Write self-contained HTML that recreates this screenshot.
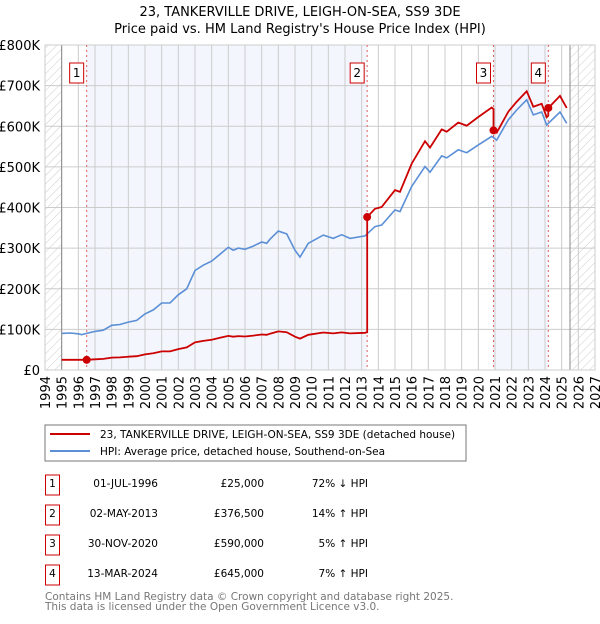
<!DOCTYPE html>
<html><head><meta charset="utf-8">
<style>
body{margin:0;background:#fff;width:600px;height:620px;overflow:hidden;font-family:"DejaVu Sans","Liberation Sans",sans-serif;}
svg text{font-family:"DejaVu Sans","Liberation Sans",sans-serif;}
</style></head>
<body>
<svg id="chart" width="600" height="620">
<defs>
<pattern id="hatch" patternUnits="userSpaceOnUse" width="6" height="6" patternTransform="rotate(45)">
<line x1="0" y1="0" x2="0" y2="6" stroke="#ccc" stroke-width="1"/>
</pattern>
</defs>
<text x="300" y="16" text-anchor="middle" font-size="13">23, TANKERVILLE DRIVE, LEIGH-ON-SEA, SS9 3DE</text>
<text x="300" y="33" text-anchor="middle" font-size="13">Price paid vs. HM Land Registry's House Price Index (HPI)</text>
<g id="plot"></g>
<rect x="45" y="425" width="421" height="36" fill="#fff" stroke="#777"/>
<line x1="50" y1="434" x2="90" y2="434" stroke="#cc0000" stroke-width="2"/>
<text x="100" y="438" font-size="10.5">23, TANKERVILLE DRIVE, LEIGH-ON-SEA, SS9 3DE (detached house)</text>
<line x1="50" y1="451" x2="90" y2="451" stroke="#5b8fd6" stroke-width="2"/>
<text x="100" y="455" font-size="10.5">HPI: Average price, detached house, Southend-on-Sea</text>
<g id="table" font-size="10.5"></g>
<text x="45" y="600" font-size="10.5" fill="#777">Contains HM Land Registry data © Crown copyright and database right 2025.</text>
<text x="45" y="610" font-size="10.5" fill="#777">This data is licensed under the Open Government Licence v3.0.</text>
</svg>
<script>
const hpiYears = [1995,1995.5,1996,1996.2,1996.5,1997,1997.5,1998,1998.5,1999,1999.5,2000,2000.5,2001,2001.5,2002,2002.5,2003,2003.5,2004,2004.5,2005,2005.3,2005.6,2006,2006.5,2007,2007.3,2007.5,2008,2008.5,2009,2009.3,2009.8,2010.7,2011.3,2011.8,2012.3,2013.2,2013.8,2014.2,2015,2015.3,2016,2016.8,2017.1,2017.8,2018.1,2018.8,2019.3,2020,2020.8,2021.1,2021.8,2022.3,2022.9,2023.3,2023.8,2024.1,2024.9,2025.3];
const hpiValues = [90,91,89,87,90,95,98,110,112,118,122,138,148,165,165,185,200,245,258,268,285,302,295,300,297,305,315,312,322,342,335,295,278,312,332,324,333,324,330,353,357,394,390,452,501,487,527,522,542,535,554,575,566,616,640,665,628,635,603,635,607];
const saleDates = [1996.5,2013.33,2020.91,2024.2];
const salePrices = [25,376.5,590,645];
const saleLabels = ["1","2","3","4"];
const saleDateText = ["01-JUL-1996","02-MAY-2013","30-NOV-2020","13-MAR-2024"];
const salePriceText = ["£25,000","£376,500","£590,000","£645,000"];
const saleHpiText = ["72% ↓ HPI","14% ↑ HPI","5% ↑ HPI","7% ↑ HPI"];
const yTicks = [0,100,200,300,400,500,600,700,800];
const yTickLabels = ["£0","£100K","£200K","£300K","£400K","£500K","£600K","£700K","£800K"];

const X0=45,X1=595,Y0=370,Y1=45, yr0=1994, yr1=2027;
const xs = t => X0+(t-yr0)/(yr1-yr0)*(X1-X0);
const ys = v => Y0-v/800*(Y0-Y1);
const NS="http://www.w3.org/2000/svg";
const plot=document.getElementById('plot');
function mk(tag,attrs,parent){const e=document.createElementNS(NS,tag);for(const k in attrs)e.setAttribute(k,attrs[k]);(parent||plot).appendChild(e);return e;}
function hpiAt(t){if(t<=hpiYears[0])return hpiValues[0];for(let i=1;i<hpiYears.length;i++){if(t<=hpiYears[i]){const f=(t-hpiYears[i-1])/(hpiYears[i]-hpiYears[i-1]);return hpiValues[i-1]+f*(hpiValues[i]-hpiValues[i-1]);}}return hpiValues[hpiValues.length-1];}

const endYr=hpiYears[hpiYears.length-1];
let e;
e=mk('rect',{x:xs(saleDates[0]),y:Y1,width:xs(saleDates[1])-xs(saleDates[0]),height:Y0-Y1,fill:'#f3f6fd'});


e=mk('rect',{x:xs(saleDates[2]),y:Y1,width:xs(saleDates[3])-xs(saleDates[2]),height:Y0-Y1,fill:'#f3f6fd'});


for(let y=yr0;y<=yr1;y++){e=mk('line',{x1:xs(y),x2:xs(y),y1:Y1,y2:Y0,stroke:'#ccc','stroke-width':1});

}
yTicks.forEach((v,i)=>{e=mk('line',{x1:X0,x2:X1,y1:ys(v),y2:ys(v),stroke:'#ccc','stroke-width':1});


e=mk('text',{x:X0-5,y:ys(v)+5,'text-anchor':'end','font-size':13});e.textContent=yTickLabels[i];

});
e=mk('rect',{x:X0,y:Y1,width:xs(1995)-X0,height:Y0-Y1,fill:'url(#hatch)'});


e=mk('rect',{x:xs(endYr+0.2),y:Y1,width:X1-xs(endYr+0.2),height:Y0-Y1,fill:'url(#hatch)'});


mk('line',{x1:xs(1995),x2:xs(1995),y1:Y1,y2:Y0,stroke:'#888'});
mk('line',{x1:xs(endYr+0.2),x2:xs(endYr+0.2),y1:Y1,y2:Y0,stroke:'#888'});
mk('rect',{x:X0,y:Y1,width:X1-X0,height:Y0-Y1,fill:'none',stroke:'#ccc'});
for(let y=yr0;y<=yr1;y++){e=mk('text',{x:0,y:0,'font-size':13,'text-anchor':'end',transform:`translate(${xs(y)+5},${Y0+6}) rotate(-90)`});e.textContent=y;

}
saleDates.forEach((d,i)=>{e=mk('line',{x1:xs(d),x2:xs(d),y1:Y1,y2:Y0,stroke:'#e06060','stroke-dasharray':'2,3','stroke-width':1});


e=mk('rect',{x:xs(d)-17,y:63,width:14,height:20,fill:'#fff',stroke:'#c00'});


e=mk('text',{x:xs(d)-10,y:77,'text-anchor':'middle','font-size':12});e.textContent=saleLabels[i];

});
let pts=hpiYears.map((t,i)=>xs(t).toFixed(1)+','+ys(hpiValues[i]).toFixed(1)).join(' ');
e=mk('polyline',{points:pts,fill:'none',stroke:'#5b8fd6','stroke-width':1.6});


let rp=[];
function addSeg(t0,t1,base,d){const h0=hpiAt(d);const ts=[t0].concat(hpiYears.filter(t=>t>t0&&t<t1)).concat([t1]);ts.forEach(t=>rp.push(xs(t).toFixed(1)+','+ys(base*hpiAt(t)/h0).toFixed(1)));}
rp.push(xs(1995).toFixed(1)+','+ys(salePrices[0]).toFixed(1));
for(let i=0;i<saleDates.length;i++){const t1=i+1<saleDates.length?saleDates[i+1]:endYr;addSeg(saleDates[i],t1,salePrices[i],saleDates[i]);
if(i+1<saleDates.length){rp.push(xs(saleDates[i+1]).toFixed(1)+','+ys(salePrices[i+1]).toFixed(1));}}
e=mk('polyline',{points:rp.join(' '),fill:'none',stroke:'#cc0000','stroke-width':1.8});


saleDates.forEach((d,i)=>{e=mk('circle',{cx:xs(d),cy:ys(salePrices[i]),r:4,fill:'#cc0000'});

});
const tb=document.getElementById('table');
saleLabels.forEach((l,i)=>{const cy=485+i*30;
e=mk('rect',{x:45.5,y:cy-10,width:14,height:20,fill:'#fff',stroke:'#c00'},tb);


e=mk('text',{x:52.5,y:cy+2,'text-anchor':'middle'},tb);e.textContent=l;


e=mk('text',{x:158,y:cy+2,'text-anchor':'end'},tb);e.textContent=saleDateText[i];


e=mk('text',{x:264,y:cy+2,'text-anchor':'end'},tb);e.textContent=salePriceText[i];


e=mk('text',{x:368,y:cy+2,'text-anchor':'end'},tb);e.textContent=saleHpiText[i];

});
</script>
</body></html>
